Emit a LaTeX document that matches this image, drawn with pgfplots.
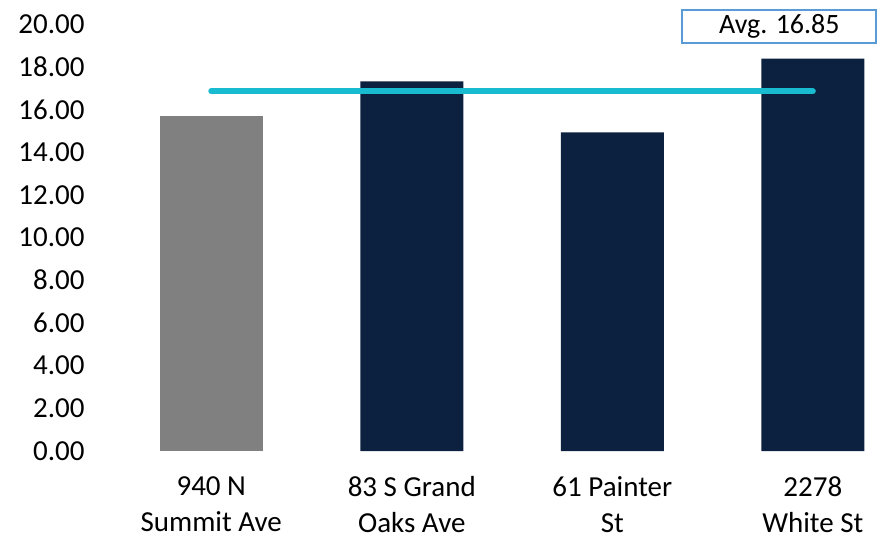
\documentclass[border=0pt]{standalone}
\usepackage{fontspec}
\setmainfont{Carlito}
\usepackage{pgfplots}
\pgfplotsset{compat=1.18}
\definecolor{barGray}{RGB}{128,128,128}
\definecolor{barNavy}{RGB}{12,33,64}
\definecolor{avgCyan}{RGB}{25,187,208}
\definecolor{boxBlue}{RGB}{91,155,213}
\begin{document}
\begin{tikzpicture}
\useasboundingbox (-111pt,-90pt) rectangle (767pt,451pt);
\begin{axis}[
  at={(0pt,0pt)}, anchor=south west,
  scale only axis,
  width=766pt, height=427pt,
  xmin=-0.5, xmax=3.32,
  ymin=0, ymax=20,
  ytick={0,2,...,20},
  xtick={0,1,2,3},
  xticklabels={{940 N\\Summit Ave},{83 S Grand\\Oaks Ave},{61 Painter\\St},{2278\\White St}},
  xticklabel style={align=center, font=\fontsize{29}{36}\selectfont, yshift=-22pt},
  yticklabel style={font=\fontsize{29}{35}\selectfont, xshift=-23pt},
  /pgf/number format/assume math mode=true,
  yticklabel={\pgfmathprintnumber[fixed,fixed zerofill,precision=2]{\tick}},
  axis line style={draw=none},
  tick style={draw=none},
  clip=false,
  bar width=0.514,
]
\addplot[ybar, bar shift=0pt, fill=barGray, draw=none] coordinates {(0,15.71)};
\addplot[ybar, bar shift=0pt, fill=barNavy, draw=none] coordinates {(1,17.31) (2,14.92) (3,18.38)};
\addplot[avgCyan, line width=6pt, line cap=round] coordinates {(0,16.85) (3,16.85)};
\node[draw=boxBlue, line width=2pt, fill=white, minimum width=194pt, minimum height=33pt, inner sep=0pt, font=\fontsize{28}{32}\selectfont] at (axis cs:2.833,19.9) {Avg. 16.85};
\end{axis}
\end{tikzpicture}
\end{document}
